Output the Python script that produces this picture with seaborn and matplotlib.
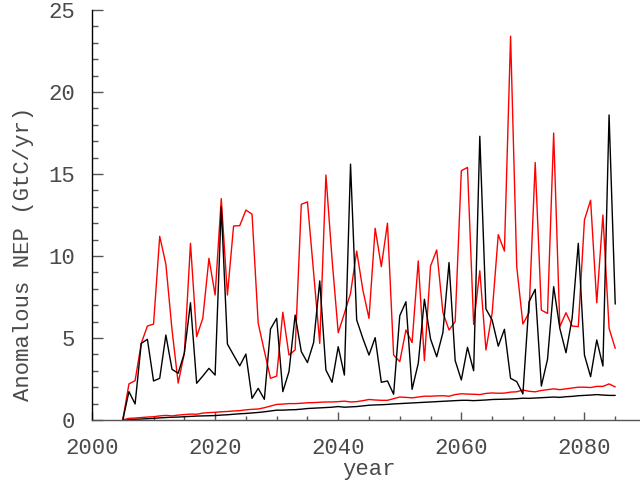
import numpy as np
import pandas as pd
import seaborn as sns
import matplotlib.pyplot as plt
from matplotlib.ticker import MultipleLocator

years = list(range(2005, 2086))

# noisy annual anomalies
red_nep = [0, 2.2, 2.4, 4.67, 5.73, 5.85, 11.2, 9.5, 5.5, 2.25,
           4.07, 10.77, 5.08, 6.2, 9.86, 7.62, 13.5, 7.62, 11.83, 11.85,
           12.8, 12.55, 5.9, 4.2, 2.54, 2.68, 6.57, 3.96, 4.27, 13.15,
           13.3, 9.0, 4.67, 14.94, 9.8, 5.32, 6.5, 7.72, 10.3, 7.93,
           6.2, 11.69, 9.35, 12.0, 3.96, 3.56, 5.49, 4.72, 9.7, 3.62,
           9.39, 10.37, 6.57, 5.49, 6.0, 15.2, 15.4, 5.83, 9.1, 4.27,
           6.5, 11.3, 10.3, 23.4, 9.35, 5.85, 6.54, 15.7, 6.7, 6.5,
           17.5, 5.69, 6.54, 5.73, 5.69, 12.2, 13.4, 7.15, 12.5, 5.59,
           4.37]
black_nep = [0, 1.73, 0.98, 4.67, 4.92, 2.38, 2.54, 5.18, 3.09, 2.85,
             4.07, 7.15, 2.24, 2.68, 3.15, 2.74, 13.0, 4.63, 3.96, 3.3,
             4.02, 1.32, 1.93, 1.26, 5.55, 6.2, 1.73, 2.95, 6.4, 4.17,
             3.5, 4.72, 8.48, 3.05, 2.3, 4.47, 2.74, 15.6, 6.1, 4.98,
             3.96, 5.02, 2.3, 2.38, 1.57, 6.36, 7.21, 1.87, 3.45, 7.36,
             4.94, 3.86, 5.32, 9.6, 3.62, 2.44, 4.43, 3.0, 17.3, 6.77,
             6.1, 4.5, 5.53, 2.54, 2.34, 1.59, 7.21, 7.97, 2.07, 3.7,
             8.13, 5.59, 4.1, 6.2, 10.77, 3.96, 2.64, 4.88, 3.29, 18.6,
             7.07]

# slowly growing lines near the bottom
red_low = [0, 0.1, 0.12, 0.15, 0.18, 0.2, 0.25, 0.28, 0.25, 0.3,
           0.33, 0.36, 0.35, 0.42, 0.45, 0.47, 0.5, 0.52, 0.55, 0.57,
           0.62, 0.65, 0.67, 0.75, 0.85, 0.95, 0.97, 1.0, 1.0, 1.02,
           1.05, 1.06, 1.08, 1.1, 1.1, 1.12, 1.15, 1.1, 1.12, 1.18,
           1.25, 1.22, 1.2, 1.2, 1.3, 1.4, 1.38, 1.35, 1.4, 1.45,
           1.45, 1.47, 1.48, 1.45, 1.55, 1.6, 1.58, 1.57, 1.55, 1.62,
           1.65, 1.63, 1.64, 1.7, 1.72, 1.83, 1.75, 1.72, 1.8, 1.85,
           1.9, 1.85, 1.9, 1.95, 2.0, 2.0, 1.98, 2.05, 2.05, 2.2,
           2.02]
black_low = [0, 0.02, 0.05, 0.06, 0.08, 0.1, 0.13, 0.15, 0.17, 0.18,
             0.2, 0.22, 0.24, 0.25, 0.26, 0.27, 0.3, 0.32, 0.35, 0.38,
             0.4, 0.43, 0.46, 0.5, 0.55, 0.6, 0.6, 0.62, 0.63, 0.66,
             0.7, 0.72, 0.74, 0.76, 0.78, 0.82, 0.78, 0.8, 0.82, 0.86,
             0.9, 0.92, 0.93, 0.95, 0.98, 1.0, 1.02, 1.04, 1.06, 1.08,
             1.1, 1.12, 1.14, 1.16, 1.18, 1.2, 1.2, 1.18, 1.2, 1.22,
             1.25, 1.26, 1.27, 1.28, 1.3, 1.33, 1.32, 1.34, 1.36, 1.38,
             1.4, 1.38, 1.42, 1.44, 1.48, 1.5, 1.52, 1.55, 1.52, 1.5,
             1.5]

df = pd.DataFrame({"year": years, "red": red_nep, "black": black_nep,
                   "red_low": red_low, "black_low": black_low})

sns.set_style("ticks")
plt.rcParams['font.family'] = ['Liberation Mono', 'DejaVu Sans Mono']
txt = "#4a4a4a"

fig = plt.figure(figsize=(6.4, 4.87), dpi=100)
ax = fig.add_axes([92 / 640, 67 / 487, 554 / 640, 410 / 487])

sns.lineplot(data=df, x="year", y="black_low", color="black", lw=1, ax=ax)
sns.lineplot(data=df, x="year", y="red_low", color="red", lw=1, ax=ax)
sns.lineplot(data=df, x="year", y="red", color="red", lw=1, ax=ax)
sns.lineplot(data=df, x="year", y="black", color="black", lw=1, ax=ax)

ax.set_xlim(2000, 2090)
ax.set_ylim(0, 25)
ax.xaxis.set_major_locator(MultipleLocator(20))
ax.xaxis.set_minor_locator(MultipleLocator(5))
ax.yaxis.set_major_locator(MultipleLocator(5))
ax.yaxis.set_minor_locator(MultipleLocator(1))
ax.tick_params(which="both", direction="in", colors="#555555", labelcolor=txt,
               labelsize=16, width=1)
ax.tick_params(axis="y", which="major", length=8, pad=12)
ax.tick_params(axis="y", which="minor", length=4)
ax.tick_params(axis="x", which="major", length=6, pad=13)
ax.tick_params(axis="x", which="minor", length=3)
ax.set_xlabel("year", fontsize=16, color=txt, labelpad=0)
ax.set_ylabel("Anomalous NEP (GtC/yr)", fontsize=16, color=txt, labelpad=8)
ax.yaxis.set_label_coords(-0.105, 0.405)
sns.despine(ax=ax)
ax.spines["left"].set_color("black")
ax.spines["bottom"].set_color("#555555")
for s in ["left", "bottom"]:
    ax.spines[s].set_linewidth(1)

fig.savefig("out.png", dpi=100)
